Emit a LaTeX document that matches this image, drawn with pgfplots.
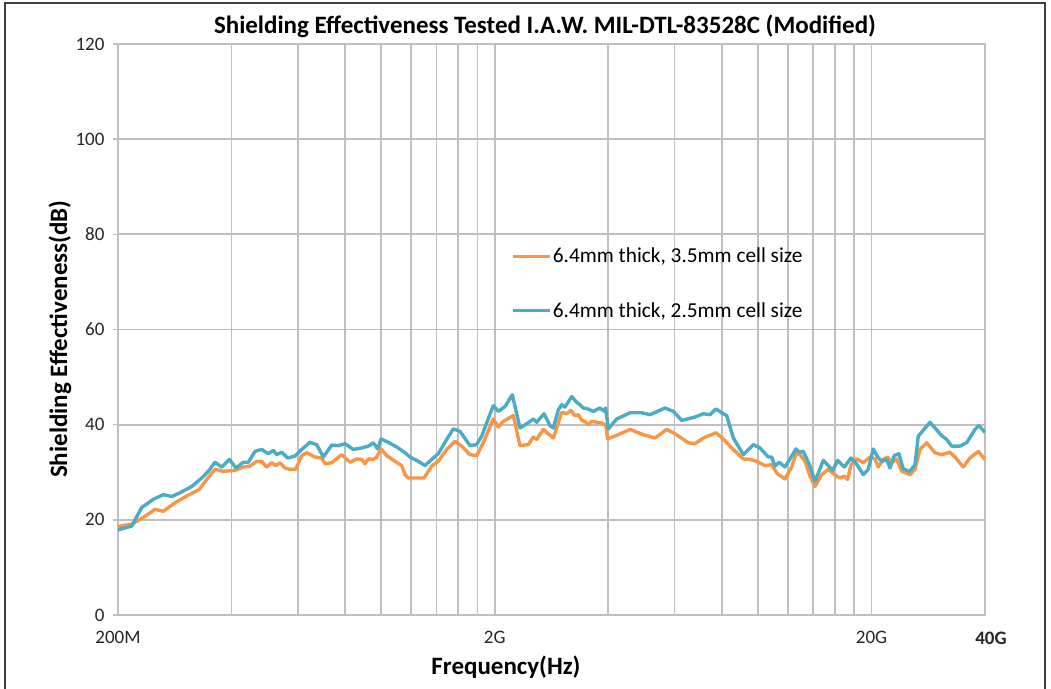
\documentclass[border=0pt]{standalone}
\usepackage{fontspec}
\setmainfont{Carlito}
\usepackage{pgfplots}
\pgfplotsset{compat=1.18}
\definecolor{sorange}{RGB}{247,150,70}
\definecolor{sblue}{RGB}{75,172,198}
\definecolor{gridgray}{RGB}{191,191,191}
\definecolor{framegray}{RGB}{64,64,64}
\pgfplotsset{
  legend image code/.code={\draw[#1] (0pt,0pt) -- (37pt,0pt);},
  every axis title shift/.style={yshift=0pt}
}
\begin{document}
\begin{tikzpicture}[x=1pt,y=1pt]
\path[use as bounding box] (0,0) rectangle (1051,-688);
\draw[framegray,line width=2.5pt] (5,-700) -- (5,-3) -- (1045,-3) -- (1045,-700);
\begin{axis}[
  at={(118pt,-615pt)}, anchor=south west,
  scale only axis, width=867pt, height=571pt,
  xmode=log, xmin=0.2, xmax=40, ymin=0, ymax=120,
  ytick={0,20,40,60,80,100,120},
  xtick={0.2,0.4,0.6,0.8,1,1.2,1.4,1.6,1.8,2,4,6,8,10,12,14,16,18,20,40},
  xticklabels={200M,,,,,,,,,2G,,,,,,,,,20G,\hspace*{12pt}\textbf{40G}},
  minor xtick={},
  grid=major,
  major grid style={gridgray,line width=1.8pt},
  axis line style={gridgray,line width=1.8pt},
  x tick style={draw=none},
  y tick style={gridgray,line width=1.4pt},
  major tick length=5pt,
  tick align=outside,
  tick pos=left,
  /pgf/number format/assume math mode=true,
  ticklabel style={font=\fontsize{19}{22}\selectfont, text=black!85},
  xticklabel style={yshift=-8pt},
  yticklabel style={xshift=-5pt},
  title={\textbf{Shielding Effectiveness Tested I.A.W. MIL-DTL-83528C (Modified)}},
  title style={at={(axis description cs:0.4925,1.033)}, anchor=center, yshift=-7pt, font=\fontsize{25}{30}\selectfont},
  xlabel={\textbf{Frequency(Hz)}},
  xlabel style={at={(axis description cs:0.4475,-0.091)}, anchor=center, font=\fontsize{25}{30}\selectfont},
  ylabel={\textbf{Shielding Effectiveness(dB)}},
  ylabel style={at={(axis description cs:-0.067,0.483)}, anchor=center, font=\fontsize{25}{30}\selectfont},
  legend style={at={(axis description cs:0.4536,0.5806)}, anchor=west, draw=none, fill=none,
    inner sep=0pt, row sep=38pt, font=\fontsize{21.3}{25}\selectfont,
    nodes={inner xsep=1pt, inner ysep=0pt}},
  legend cell align=left,
]
\addplot[sorange, line width=3.4pt, line join=round] coordinates {
(0.2,18.6)(0.2175,19.1)(0.2334,20.5)(0.2507,22.2)(0.2638,21.8)(0.2833,23.6)(0.3043,25.0)(0.3287,26.4)(0.3439,28.5)(0.3618,30.6)(0.3806,30.2)(0.4089,30.4)(0.4301,31.1)(0.4481,31.3)(0.4668,32.3)(0.4813,32.3)(0.4962,31.1)(0.5116,32.0)(0.5243,31.4)(0.5382,32.0)(0.5549,30.9)(0.5721,30.6)(0.5924,30.6)(0.6146,33.5)(0.6336,34.1)(0.6666,33.2)(0.6945,33.0)(0.7086,31.8)(0.7382,32.0)(0.7847,33.7)(0.8256,32.1)(0.8600,32.8)(0.8868,32.7)(0.9048,31.8)(0.9233,32.8)(0.9519,32.7)(0.9719,33.2)(0.9978,34.9)(1.0331,33.5)(1.0869,32.3)(1.1323,31.4)(1.1553,29.5)(1.1789,28.8)(1.2281,28.8)(1.2976,28.8)(1.3601,31.3)(1.4161,32.3)(1.4907,34.8)(1.5682,36.5)(1.6337,35.5)(1.7187,33.7)(1.7906,33.5)(1.8642,36.2)(1.9817,41.2)(2.0432,39.5)(2.1066,40.7)(2.2394,41.9)(2.3330,35.6)(2.4544,35.8)(2.5306,37.4)(2.5837,36.9)(2.6900,39.0)(2.8025,37.8)(2.8596,37.2)(2.9197,39.3)(3.0103,42.6)(3.1036,42.3)(3.1862,43.0)(3.2650,41.9)(3.3315,42.1)(3.4016,40.9)(3.4709,40.7)(3.5287,40.0)(3.6163,40.7)(3.8042,40.4)(3.9391,40.0)(3.9874,37.0)(4.2545,37.9)(4.5697,39.0)(4.9567,37.9)(5.3240,37.2)(5.7188,39.0)(6.0162,38.1)(6.5258,36.2)(6.7986,36.0)(7.1524,37.2)(7.7297,38.3)(8.0823,37.0)(8.5081,35.1)(9.1329,32.8)(9.5146,32.7)(9.9122,32.3)(10.428,31.4)(10.864,31.6)(11.242,29.7)(11.784,28.6)(12.276,31.1)(12.603,33.9)(12.915,33.7)(13.316,32.3)(13.729,29.2)(14.155,27.0)(14.746,29.5)(15.353,30.6)(16.161,29.2)(16.491,28.8)(16.930,29.2)(17.285,28.5)(17.637,31.6)(18.262,32.8)(19.014,32.0)(19.806,33.2)(20.420,32.8)(20.836,31.1)(21.482,32.7)(22.068,33.2)(22.614,32.0)(23.316,32.8)(24.038,30.2)(25.288,29.5)(26.072,30.6)(26.882,34.8)(28.006,36.2)(29.464,34.1)(30.694,33.7)(32.290,34.2)(33.292,33.2)(35.024,31.1)(36.486,33.0)(38.388,34.4)(40,32.7)
};
\addlegendentry{6.4mm thick, 3.5mm cell size}
\addplot[sblue, line width=3.4pt, line join=round] coordinates {
(0.2,17.9)(0.2175,18.7)(0.2312,22.6)(0.2481,24.3)(0.2638,25.3)(0.2777,24.9)(0.2921,25.7)(0.3138,27.0)(0.3336,28.8)(0.3473,30.2)(0.3618,32.1)(0.3769,31.1)(0.3949,32.7)(0.4114,30.9)(0.4301,32.1)(0.4435,32.1)(0.4620,34.4)(0.4813,34.8)(0.5011,33.9)(0.5166,34.6)(0.5275,33.7)(0.5439,34.2)(0.5642,33.0)(0.5899,33.4)(0.6146,34.8)(0.6465,36.3)(0.6736,35.8)(0.7013,33.2)(0.7382,35.7)(0.7686,35.6)(0.8007,36.0)(0.8424,34.8)(0.8868,35.1)(0.9233,35.5)(0.9519,36.2)(0.9778,34.9)(0.9978,37.0)(1.0433,36.3)(1.1090,35.1)(1.1553,34.1)(1.1912,33.2)(1.2532,32.3)(1.3055,31.4)(1.3601,32.7)(1.4161,33.9)(1.4907,36.9)(1.5520,39.1)(1.6169,38.6)(1.7187,35.6)(1.7906,35.8)(1.8461,37.6)(1.9104,40.7)(1.9817,44.0)(2.0432,42.8)(2.1286,43.8)(2.2257,46.3)(2.3330,39.3)(2.4544,40.4)(2.5306,41.2)(2.5837,40.5)(2.7016,42.3)(2.8025,39.8)(2.8596,39.3)(2.9484,43.1)(3.0103,44.2)(3.0716,43.7)(3.1998,45.9)(3.2992,44.7)(3.3664,44.2)(3.4350,43.5)(3.5072,43.4)(3.6515,42.8)(3.8042,43.5)(3.9055,42.8)(3.9391,43.5)(4.0021,39.1)(4.2131,41.2)(4.5697,42.5)(4.9085,42.5)(5.1638,42.1)(5.6596,43.5)(5.9541,42.8)(6.2678,40.9)(6.7986,41.6)(7.1524,42.3)(7.4513,42.1)(7.7297,43.3)(8.0036,42.5)(8.2520,41.9)(8.5916,37.2)(9.1329,33.7)(9.7084,35.8)(10.114,35.1)(10.640,33.2)(10.864,33.2)(11.085,31.3)(11.380,32.1)(11.784,31.1)(12.149,32.8)(12.603,34.9)(12.860,34.2)(13.178,34.4)(13.729,31.3)(14.155,28.1)(14.891,32.5)(15.771,30.4)(16.261,32.5)(16.491,32.0)(16.930,31.1)(17.637,33.0)(18.151,32.0)(19.014,29.5)(19.600,30.6)(20.208,34.9)(20.758,33.2)(21.272,32.3)(21.932,32.7)(22.378,30.9)(22.974,33.5)(23.644,33.9)(24.274,30.7)(25.288,30.2)(26.072,31.6)(26.604,37.6)(28.576,40.5)(30.694,37.7)(31.646,36.9)(32.628,35.5)(34.326,35.5)(35.760,36.2)(37.620,39.0)(38.552,39.8)(40,38.4)
};
\addlegendentry{6.4mm thick, 2.5mm cell size}
\end{axis}
\end{tikzpicture}
\end{document}
